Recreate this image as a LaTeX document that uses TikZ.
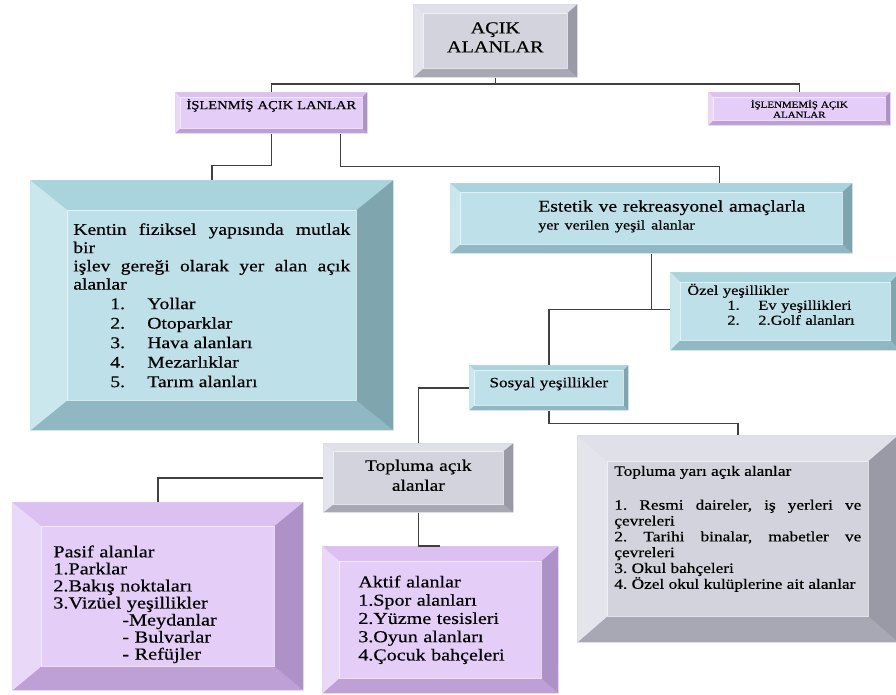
\documentclass[tikz,border=0pt]{standalone}
\usepackage{fontspec}
\setmainfont{Liberation Serif}[FakeStretch=1.2, FakeBold=0.4]
\usetikzlibrary{calc}
\setlength{\parindent}{0pt}
\frenchspacing

\definecolor{blueF}{HTML}{BEE0E8}
\definecolor{blueT}{HTML}{A9D3DD}
\definecolor{blueL}{HTML}{CBE7EE}
\definecolor{blueR}{HTML}{7FA5AF}
\definecolor{blueB}{HTML}{8FB8C2}
\definecolor{purpF}{HTML}{E4CDF6}
\definecolor{purpT}{HTML}{DCC0F2}
\definecolor{purpL}{HTML}{EAD8F8}
\definecolor{purpR}{HTML}{AD91C7}
\definecolor{purpB}{HTML}{BEA0D6}
\definecolor{grayF}{HTML}{D3D3DD}
\definecolor{grayT}{HTML}{E0E0E8}
\definecolor{grayL}{HTML}{E4E4EC}
\definecolor{grayR}{HTML}{9A9AA6}
\definecolor{grayB}{HTML}{A8A8B4}

\newcommand{\fsz}[2]{\fontsize{#1}{#2}\selectfont}
\newcommand{\numitem}[4]{\hspace*{#1}\makebox[#2][l]{#3}#4\par}
\newcommand{\lift}[1]{\par\kern#1\relax}

\tikzset{
  bvx/.store in=\bvx, bvy/.store in=\bvy, bvx=0.1cm, bvy=0.1cm,
  bevelbox/.style={rectangle, inner sep=0pt, anchor=north west, fill=#1F,
    path picture={
      \coordinate (pnw) at (path picture bounding box.north west);
      \coordinate (pne) at (path picture bounding box.north east);
      \coordinate (psw) at (path picture bounding box.south west);
      \coordinate (pse) at (path picture bounding box.south east);
      \coordinate (inw) at ($(pnw)+(\bvx,-\bvy)$);
      \coordinate (ine) at ($(pne)+(-\bvx,-\bvy)$);
      \coordinate (isw) at ($(psw)+(\bvx,\bvy)$);
      \coordinate (ise) at ($(pse)+(-\bvx,\bvy)$);
      \fill[#1T] (pnw) -- (pne) -- (ine) -- (inw) -- cycle;
      \fill[#1B] (psw) -- (pse) -- (ise) -- (isw) -- cycle;
      \fill[#1L] (pnw) -- (inw) -- (isw) -- (psw) -- cycle;
      \fill[#1R] (pne) -- (ine) -- (ise) -- (pse) -- cycle;
      \draw[white, opacity=.6, line width=.4pt] (inw) rectangle (ise);
    }},
  conn/.style={draw=black!75, line width=0.8pt},
}

\begin{document}
\begin{tikzpicture}[x=0.02cm, y=-0.02cm]
  \useasboundingbox (0,0) rectangle (896,695);
  \fill[white] (0,0) rectangle (896,695);

  % top levels
  \node[bevelbox=gray, bvx=0.2cm, bvy=0.18cm, minimum width=3.28cm, minimum height=1.46cm,
        text width=3cm, align=center, font=\fsz{9.6}{10.8}] (root) at (413,4)
        {AÇIK\\ALANLAR\lift{0.14cm}};
  \node[bevelbox=purp, minimum width=3.84cm, minimum height=0.82cm,
        text width=3.6cm, align=center, font=\fsz{6.9}{8}] (isl) at (175,92)
        {İŞLENMİŞ AÇIK LANLAR\lift{0.3cm}};
  \node[bevelbox=purp, minimum width=3.64cm, minimum height=0.66cm,
        text width=3.4cm, align=center, font=\fsz{5.2}{5.8}] (islm) at (708,92)
        {İŞLENMEMİŞ AÇIK\\ALANLAR};

  \node[bevelbox=blue, bvx=0.74cm, bvy=0.6cm, minimum width=7.26cm, minimum height=5cm,
        text width=5.54cm, align=justify, font=\fsz{9.3}{10.4}] (kentin) at (30,180)
        {Kentin fiziksel yapısında mutlak\linebreak bir\par
         işlev gereği olarak yer alan açık\linebreak alanlar\par
         \fsz{9.3}{11.1}%
         \numitem{0.74cm}{0.74cm}{1.}{Yollar}
         \numitem{0.74cm}{0.74cm}{2.}{Otoparklar}
         \numitem{0.74cm}{0.74cm}{3.}{Hava alanları}
         \numitem{0.74cm}{0.74cm}{4.}{Mezarlıklar}
         \numitem{0.74cm}{0.74cm}{5.}{Tarım alanları}};
  \node[bevelbox=blue, bvx=0.2cm, bvy=0.18cm, minimum width=8.04cm, minimum height=1.4cm,
        text width=4.52cm, align=left] (estetik) at (450,183)
        {\fsz{9.3}{10.2}\makebox[4.52cm][l]{Estetik ve rekreasyonel amaçlarla}\par
         \fsz{7.6}{10.2}\makebox[4.52cm][l]{yer verilen yeşil alanlar}\lift{0.08cm}};

  % green areas
  \node[bevelbox=blue, bvx=0.2cm, bvy=0.2cm, minimum width=4.6cm, minimum height=1.56cm,
        text width=3.92cm, align=left, font=\fsz{7.8}{8.5}] (ozel) at (670,272)
        {Özel yeşillikler\par
         \numitem{0.8cm}{0.62cm}{1.}{Ev yeşillikleri}
         \numitem{0.8cm}{0.62cm}{2.}{2.Golf alanları}
         \kern0.28cm};
  \node[bevelbox=blue, minimum width=3.18cm, minimum height=0.9cm,
        text width=3cm, align=center, font=\fsz{8.1}{9}] (sosyal) at (469,365)
        {Sosyal yeşillikler\lift{0.16cm}};

  \node[bevelbox=gray, bvx=0.2cm, bvy=0.16cm, minimum width=3.8cm, minimum height=1.38cm,
        text width=3.5cm, align=center, font=\fsz{9.2}{11.3}] (acik) at (323,443)
        {Topluma açık\\alanlar\lift{0.1cm}};
  \node[bevelbox=gray, bvx=0.6cm, bvy=0.52cm, minimum width=6.42cm, minimum height=4.14cm,
        text width=4.94cm, align=justify, font=\fsz{8.2}{9}] (yari) at (577,435)
        {Topluma yarı açık alanlar\par\kern10.3pt
         1. Resmi daireler, iş yerleri ve\linebreak çevreleri\par
         2. Tarihi binalar, mabetler ve\linebreak çevreleri\par
         3. Okul bahçeleri\par
         4. Özel okul kulüplerine ait alanlar\lift{0.4cm}};

  \node[bevelbox=purp, bvx=0.58cm, bvy=0.48cm, minimum width=5.82cm, minimum height=3.76cm,
        text width=4.18cm, align=left, font=\fsz{9.6}{9.7}] (pasif) at (12,502)
        {Pasif alanlar\\1.Parklar\\2.Bakış noktaları\\3.Vizüel yeşillikler\\
         \hspace*{1.38cm}-Meydanlar\\\hspace*{1.38cm}- Bulvarlar\\\hspace*{1.38cm}- Refüjler\lift{-0.32cm}};
  \node[bevelbox=purp, bvx=0.34cm, bvy=0.3cm, minimum width=4.72cm, minimum height=2.94cm,
        text width=3.28cm, align=left, font=\fsz{9.5}{10.4}] (aktif) at (322,546)
        {Aktif alanlar\\1.Spor alanları\\2.Yüzme tesisleri\\3.Oyun alanları\\4.Çocuk bahçeleri};

  % connectors
  \draw[conn] (root.south) -- ++(0,7);
  \draw[conn] (isl.north) -- ++(0,-8) -| (islm.north);
  \draw[conn] (isl.south) -- ++(0,32) -| (kentin.north);
  \draw[conn] ($(isl.south)+(69,0)$) -- ++(0,33) -| ($(estetik.north)+(68,0)$);
  \draw[conn] (estetik.south) -- ++(0,56) coordinate (split);
  \draw[conn] (split) -- (split -| ozel.west);
  \draw[conn] (split) -| (sosyal.north);
  \draw[conn] (sosyal.west) -| (acik.north);
  \draw[conn] (sosyal.south) -- ++(0,13) -| (yari.north);
  \draw[conn] (acik.west) -| (pasif.north);
  \draw[conn] (acik.south) |- (aktif.north);
\end{tikzpicture}
\end{document}
